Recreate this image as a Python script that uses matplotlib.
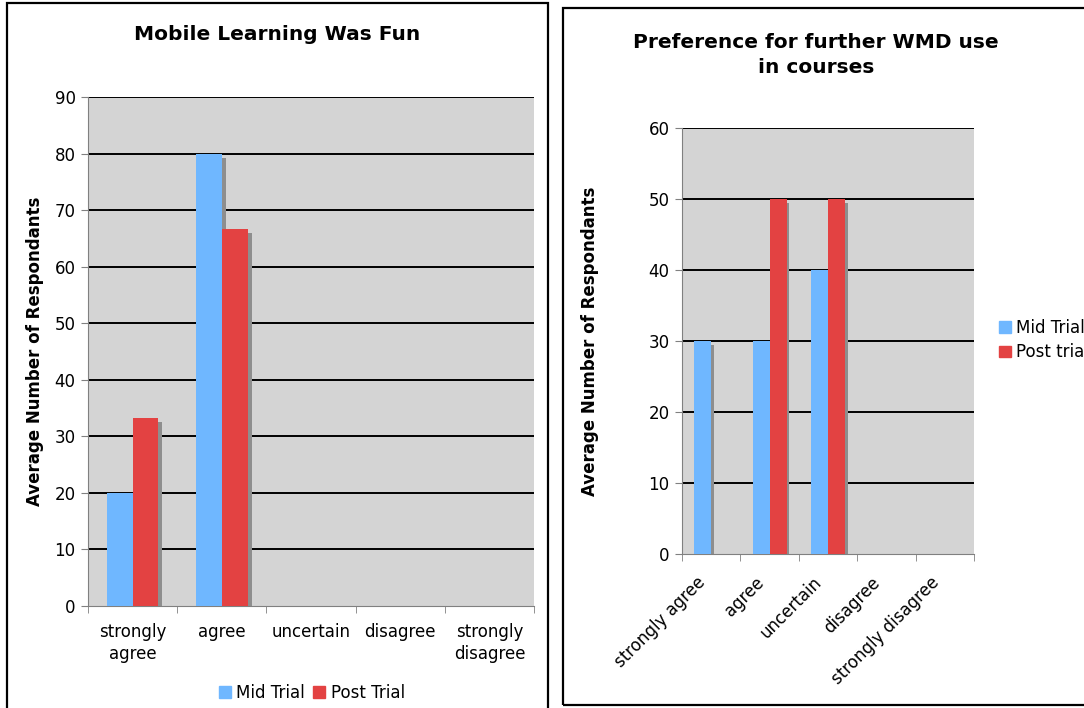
import numpy as np
import matplotlib
matplotlib.use("Agg")
import matplotlib.pyplot as plt
from matplotlib.patches import Rectangle, Patch
from matplotlib.transforms import ScaledTranslation

# Survey responses (average number of respondants, %)
categories = ["strongly agree", "agree", "uncertain", "disagree", "strongly disagree"]
fun_labels = ["strongly\nagree", "agree", "uncertain", "disagree", "strongly\ndisagree"]
fun_mid = [20, 80, 0, 0, 0]
fun_post = [33.3, 66.7, 0, 0, 0]
pref_mid = [30, 30, 40, 0, 0]
pref_post = [0, 50, 50, 0, 0]

BLUE = "#6fb7ff"
RED = "#e34242"
SHADOW = "#8e8e8e"
BG = "#d4d4d4"
SPINE = "#808080"
FS = 12

plt.rcParams["font.family"] = "DejaVu Sans"

fig = plt.figure(figsize=(10.84, 7.08), dpi=100)

# panel frames
for x0, y0, w, h in [(7, 3, 541, 720), (563, 8, 540, 697)]:
    fig.patches.append(Rectangle((x0 / 1084, 1 - (y0 + h) / 708), w / 1084, h / 708,
                                 transform=fig.transFigure, fill=False,
                                 edgecolor="black", lw=1.6, clip_on=False))


def draw_bars(ax, mid, post, ymax, dx, dy):
    x = np.arange(len(mid))
    w = 0.29
    for xs, vals in [(x - w / 2, mid), (x + w / 2, post)]:
        vals = np.array(vals, dtype=float)
        sh = np.where(vals > 0, np.maximum(vals - dy, 0), 0)
        ax.bar(xs + dx, sh, w, color=SHADOW, zorder=2)
    ax.bar(x - w / 2, mid, w, color=BLUE, zorder=3)
    ax.bar(x + w / 2, post, w, color=RED, zorder=3)
    ax.set_facecolor(BG)
    ax.set_xlim(-0.5, len(mid) - 0.5)
    ax.set_ylim(0, ymax)
    ax.set_yticks(np.arange(0, ymax + 1, 10))
    for t in np.arange(10, ymax + 1, 10):
        ax.axhline(t, color="black", lw=1.4, zorder=1)
    for s in ax.spines.values():
        s.set_color(SPINE)
    ax.spines["top"].set_visible(False)
    ax.spines["right"].set_visible(False)
    ax.set_xticks(x)
    ax.set_xticks(np.arange(-0.5, len(mid)), minor=True)
    ax.tick_params(axis="x", which="major", length=0)
    ax.tick_params(axis="x", which="minor", length=5, color=SPINE)
    ax.tick_params(axis="y", length=5, color=SPINE, labelsize=FS, pad=4)
    ax.set_ylabel("Average Number of Respondants", fontsize=12, fontweight="bold")


# left chart
ax1 = fig.add_axes([88 / 1084, 1 - 606 / 708, 446 / 1084, 509 / 708])
draw_bars(ax1, fun_mid, fun_post, 90, 0.045, 0.7)
ax1.set_xticklabels(fun_labels, fontsize=FS, linespacing=1.3)
ax1.tick_params(axis="x", which="major", pad=12)
ax1.yaxis.set_label_coords(-0.099, 0.5)
fig.text(277 / 1084, 1 - 35 / 708, "Mobile Learning Was Fun", fontsize=14.5,
         fontweight="bold", ha="center", va="center")

fig.legend(handles=[Patch(color=BLUE, label="Mid Trial"), Patch(color=RED, label="Post Trial")],
           loc="center", bbox_to_anchor=(312 / 1084, 1 - 693 / 708), ncol=2, frameon=False,
           fontsize=FS, handlelength=0.7, handleheight=0.7, handletextpad=0.35,
           columnspacing=0.5)

# right chart
ax2 = fig.add_axes([682 / 1084, 1 - 554 / 708, 292 / 1084, 426 / 708])
draw_bars(ax2, pref_mid, pref_post, 60, 0.05, 0.56)
ax2.set_xticklabels(categories, fontsize=FS, rotation=45, ha="right", va="top",
                    rotation_mode="anchor")
ax2.tick_params(axis="x", which="major", pad=14)
for lab in ax2.get_xticklabels():
    lab.set_transform(lab.get_transform() + ScaledTranslation(-0.15, 0, fig.dpi_scale_trans))
ax2.yaxis.set_label_coords(-0.284, 0.5)
fig.text(816 / 1084, 1 - 55 / 708, "Preference for further WMD use\nin courses", fontsize=14.5,
         fontweight="bold", ha="center", va="center", linespacing=1.35)

fig.legend(handles=[Patch(color=BLUE, label="Mid Trial"), Patch(color=RED, label="Post trial")],
           loc="center left", bbox_to_anchor=(984 / 1084, 1 - 340 / 708), frameon=False,
           fontsize=FS, handlelength=0.7, handleheight=0.7, handletextpad=0.35,
           labelspacing=0.4)

fig.savefig("out.png", dpi=100)
